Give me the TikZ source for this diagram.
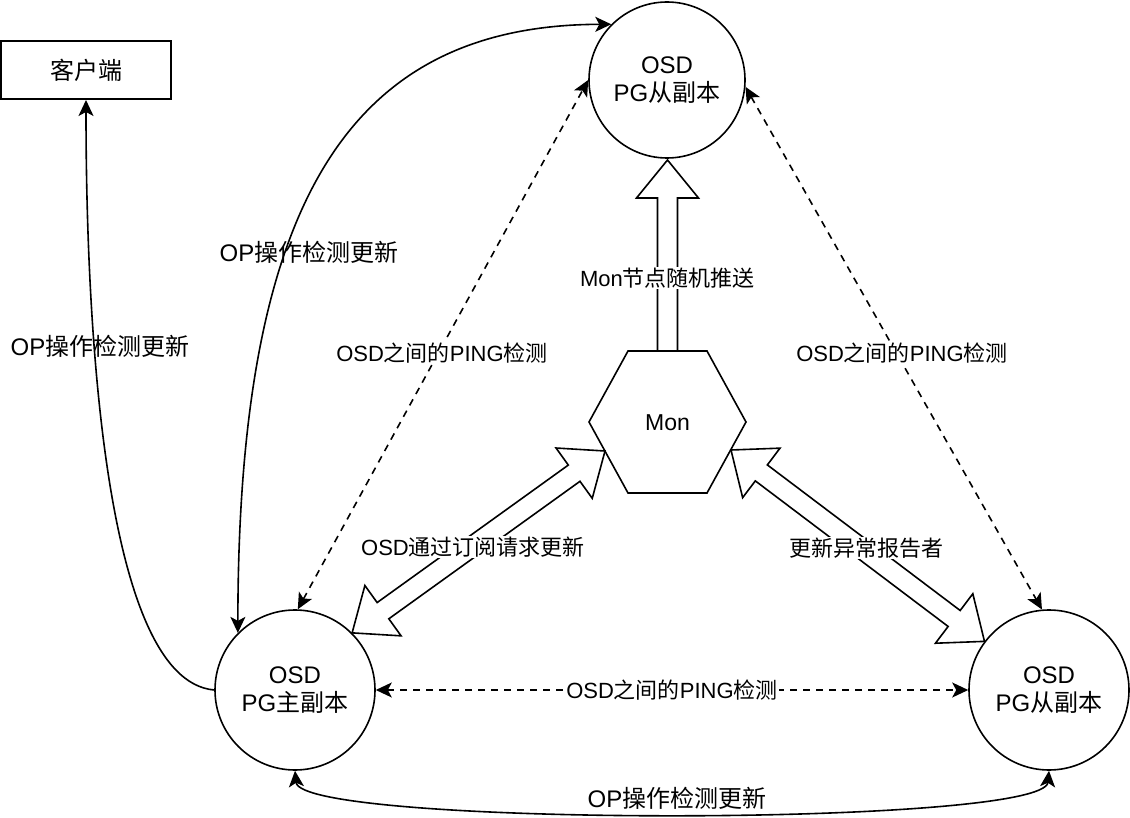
\documentclass[tikz,border=0pt]{standalone}
\usepackage{fontspec}
\setmainfont{Liberation Sans}
\newfontfamily\cjk{Noto Sans CJK SC}
\newcommand\zh[1]{{\cjk #1}}
\usetikzlibrary{arrows.meta,calc}

% hollow double arrow between two tips
\newcommand\hdouble[2]{%
  \coordinate (ha1) at ($(#1)!38pt!(#2)$);
  \coordinate (hb1) at ($(#2)!38pt!(#1)$);
  \draw[hollow] (#1) -- ($(ha1)!31pt!90:(#2)$) -- ($(ha1)!10pt!90:(#2)$)
    -- ($(hb1)!10pt!-90:(#1)$) -- ($(hb1)!31pt!-90:(#1)$) -- (#2)
    -- ($(hb1)!31pt!90:(#1)$) -- ($(hb1)!10pt!90:(#1)$)
    -- ($(ha1)!10pt!-90:(#2)$) -- ($(ha1)!31pt!-90:(#2)$) -- cycle;}
% hollow single arrow: tail #1, tip #2
\newcommand\hsingle[2]{%
  \coordinate (sa1) at ($(#2)!38pt!(#1)$);
  \draw[hollow] ($(#1)!10pt!90:(#2)$) -- ($(sa1)!10pt!-90:(#1)$) -- ($(sa1)!31pt!-90:(#1)$)
    -- (#2) -- ($(sa1)!31pt!90:(#1)$) -- ($(sa1)!10pt!90:(#1)$)
    -- ($(#1)!10pt!-90:(#2)$) -- cycle;}

\begin{document}
\begin{tikzpicture}[x=1pt,y=-1pt,line width=1.6pt,
  >={Stealth[length=16pt,width=15pt,inset=4pt]},
  circ/.style={circle,draw,minimum size=160pt,inner sep=0pt,align=center,
    font=\fontsize{24}{28}\selectfont},
  lbl/.style={fill=white,inner sep=1pt,font=\fontsize{22}{26}\selectfont},
  oplbl/.style={inner sep=0pt,font=\fontsize{24}{28}\selectfont},
  hollow/.style={draw,fill=white,line width=1.6pt,line join=miter},
  ping/.style={<->,dash pattern=on 7pt off 6pt},
  solidcurve/.style={line width=1.6pt}]
\useasboundingbox (0,0) rectangle (1130,818);

% nodes
\node[draw,line width=2pt,minimum width=170pt,minimum height=58pt,inner sep=0pt,
  font=\fontsize{24}{28}\selectfont] (client) at (86,70) {\zh{客户端}};
\node[circ,minimum size=156pt] (T) at (667,80) {OSD\\PG\zh{从副本}};
\node[circ] (L) at (295,690) {OSD\\PG\zh{主副本}};
\node[circ] (R) at (1049,690) {OSD\\PG\zh{从副本}};

% hexagon Mon
\coordinate (h1) at (589,422);
\coordinate (h2) at (628,351);
\coordinate (h3) at (707,351);
\coordinate (h4) at (746,422);
\coordinate (h5) at (707,493);
\coordinate (h6) at (628,493);
\draw[line join=miter] (h1) -- (h2) -- (h3) -- (h4) -- (h5) -- (h6) -- cycle;
\node[font=\fontsize{23}{27}\selectfont] (mon) at (667.5,423) {Mon};

% hollow arrows
\coordinate (montop) at (667.5,351);
\coordinate (tbot) at (667.5,160);
\hsingle{montop}{tbot}
\coordinate (mL) at (605,451);
\coordinate (cL) at (L.45);
\hdouble{mL}{cL}
\coordinate (mR) at (731,450);
\coordinate (cR) at (R.143);
\hdouble{mR}{cR}

% dashed ping arrows
\draw[ping] (L.88) -- (T.180);
\draw[ping] (T.-5) -- (R.95);
\draw[ping] (L.east) -- (R.west);

% solid curves
\draw[->] (L.180) .. controls (100,680) and (86,300) .. (client.south);
\draw[<->] (L.135) .. controls (238,200) and (350,25) .. (T.135);
\draw[<->] (L.south) .. controls (300,827) and (1044,827) .. (R.south);

% labels
\node[lbl] at (667.5,278) {Mon\zh{节点随机推送}};
\node[lbl] at (473,547) {OSD\zh{通过订阅请求更新}};
\node[lbl] at (866,548) {\zh{更新异常报告者}};
\node[lbl] at (442,353) {OSD\zh{之间的}PING\zh{检测}};
\node[lbl] at (902,353) {OSD\zh{之间的}PING\zh{检测}};
\node[lbl] at (672,690) {OSD\zh{之间的}PING\zh{检测}};
\node[oplbl] at (309,252) {OP\zh{操作检测更新}};
\node[oplbl] at (100,346) {OP\zh{操作检测更新}};
\node[oplbl] at (677,798) {OP\zh{操作检测更新}};
\end{tikzpicture}
\end{document}
